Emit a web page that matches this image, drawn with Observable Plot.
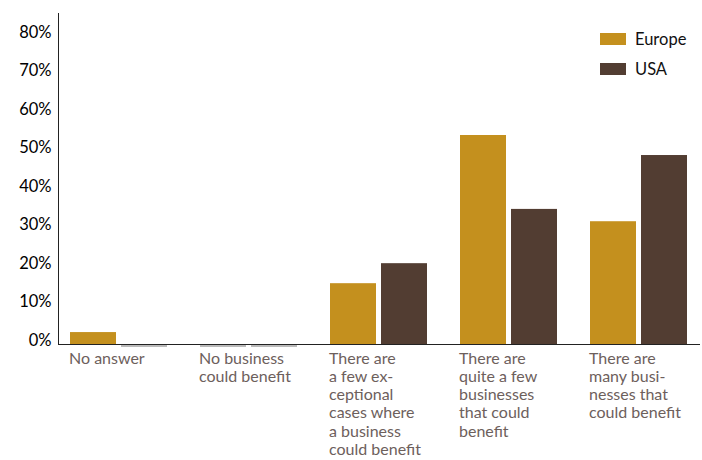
<!DOCTYPE html>
<html>
<head>
<meta charset="utf-8">
<script src="https://cdn.jsdelivr.net/npm/d3@7"></script>
<script src="https://cdn.jsdelivr.net/npm/@observablehq/plot@0.6"></script>
<style>
  body { margin: 0; background: #fff; }
  #wrap { position: relative; width: 702px; height: 460px; font-family: Lato, sans-serif; }
  #legend { position: absolute; left: 600px; top: 24px; font-size: 16.5px; color: #111; }
  .item { display: flex; align-items: center; height: 30px; }
  .sw { width: 26px; height: 12px; margin-right: 9px; }
</style>
</head>
<body>
<div id="wrap"><div id="legend"></div></div>
<script>
const categories = ["No answer", "No business could benefit", "Few exceptional cases", "Quite a few businesses", "Many businesses"];
const categoryLabels = [
  "No answer",
  "No business\ncould benefit",
  "There are\na few ex-\nceptional\ncases where\na business\ncould benefit",
  "There are\nquite a few\nbusinesses\nthat could\nbenefit",
  "There are\nmany busi-\nnesses that\ncould benefit"
];
const seriesNames = ["Europe", "USA"];
const seriesColors = ["#c4901e", "#523d32"];
const europe = [3.1, 0, 15.8, 54.3, 31.9];
const usa = [0, 0, 21.0, 35.1, 49.1];
const yTicks = [0, 10, 20, 30, 40, 50, 60, 70, 80];

const data = [];
categories.forEach((c, i) => {
  data.push({category: c, series: "Europe", value: europe[i]});
  data.push({category: c, series: "USA", value: usa[i]});
});
const labelOf = new Map(categories.map((c, i) => [c, categoryLabels[i]]));

const chart = Plot.plot({
  width: 702,
  height: 460,
  marginLeft: 57,
  marginRight: 2,
  marginTop: 13,
  marginBottom: 116,
  style: {fontFamily: "Lato, sans-serif", background: "#fff"},
  fx: {domain: categories, paddingInner: 0.0728, paddingOuter: 0, axis: null},
  x: {domain: seriesNames, paddingInner: 0.096, paddingOuter: 0.2115, axis: null},
  y: {domain: [0, 86], axis: null},
  color: {domain: seriesNames, range: seriesColors},
  marks: [
    Plot.barY(data, {fx: "category", x: "series", y: "value", fill: "series"}),
    Plot.tickY(data.filter(d => d.value === 0), {fx: "category", x: "series", y: "value", stroke: "#777", strokeWidth: 1.2, dy: 1.5}),
    Plot.frame({anchor: "bottom", facet: "super", stroke: "#222"}),
    Plot.frame({anchor: "left", facet: "super", stroke: "#222"}),
    Plot.axisY({ticks: yTicks, tickSize: 0, tickPadding: 7, dy: -4, tickFormat: d => d + "%", fontSize: 16.5, fill: "#000", label: null}),
    Plot.axisFx({anchor: "bottom", tickSize: 0, tickPadding: 6, textAnchor: "start", dx: -50, lineAnchor: "top", lineHeight: 18.3 / 16, fontSize: 16, fill: "#6d605c", tickFormat: d => labelOf.get(d), label: null})
  ]
});
document.getElementById("wrap").prepend(chart);

const legend = document.getElementById("legend");
seriesNames.forEach((s, i) => {
  const item = document.createElement("div");
  item.className = "item";
  const sw = document.createElement("div");
  sw.className = "sw";
  sw.style.background = seriesColors[i];
  const t = document.createElement("span");
  t.textContent = s;
  item.append(sw, t);
  legend.append(item);
});
</script>
</body>
</html>
